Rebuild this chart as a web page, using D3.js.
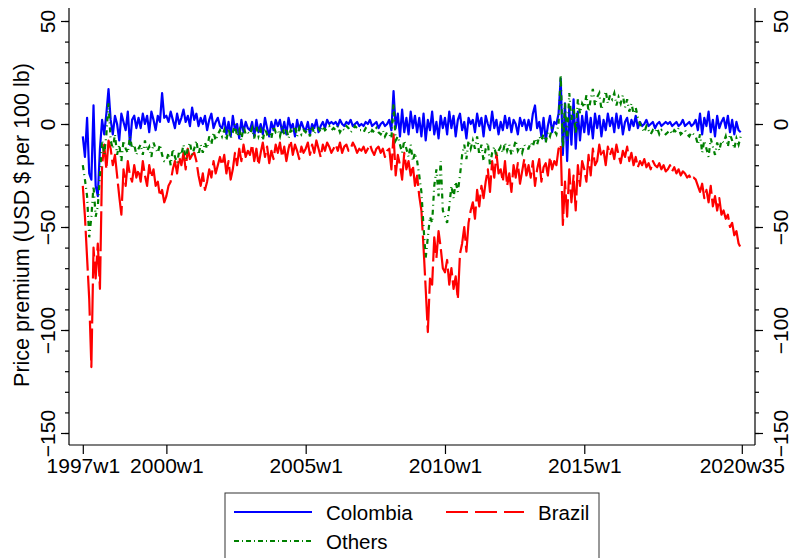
<!DOCTYPE html>
<html>
<head>
<meta charset="utf-8">
<script src="https://cdn.jsdelivr.net/npm/d3@7"></script>
<style>
  body { margin: 0; background: #fff; }
  svg { font-family: "Liberation Sans", Arial, sans-serif; }
</style>
</head>
<body>
<svg width="797" height="558"></svg>
<script>
// week index 0 = 1997w1, one value every 4 weeks up to 2020w33
const colombia = [
  -6, -16, 3, -24, -27, 9, -30, -35, -12, 2, -5, 5, 17,
  2, -5, 4, 0, -8, 5, 1, -3, 6, -10, 2, 4, -2,
  3, -2, 5, 0, 4, -4, 6, 2, -3, 4, 1, 15, 3,
  4, 1, 6, 2, -2, 5, 0, 3, 7, 1, 4, -1, 8,
  2, 5, -1, 3, 0, 4, -3, 2, 5, -2, 1, 3, -1,
  -2, 3, -5, 1, -6, 4, -3, 0, -7, 2, -4, 1, -2,
  -3, 1, -6, 2, -4, 0, -5, 3, -2, -6, 1, -3, 2,
  -1, 2, -4, 1, -5, 3, -2, 0, -6, 2, -3, 1, -2,
  -3, 1, -5, 0, -2, 2, -4, -1, 1, -2, 2, 0, 1,
  0, 1, -1, 2, 0, -1, 1, 0, 2, -1, 0, 1, -1,
  0, -1, 1, 0, 2, -1, 0, 1, -2, 0, 1, -1, 0,
  2, -3, 16, -2, 5, -6, 7, -4, 3, -5, 6, -2, 4,
  -4, 3, -6, 5, -8, 2, -3, 6, -5, 1, -7, 4, -2,
  3, -5, 6, -2, 4, -6, 2, 5, -3, 1, -7, 3, 0,
  2, -4, 5, -1, 3, -6, 4, 0, -3, 6, -2, 2, -5,
  1, -3, 4, -2, 3, -4, 2, 0, -5, 3, -1, 2, -3,
  2, -3, 5, 9, -2, 1, -6, 3, -8, -1, 4, -4, 1,
  0, 5, 22, -15, 10, -18, 8, -10, 12, -12, 6, -8, 4,
  -4, 6, -5, 3, -7, 5, -2, 4, -6, 2, -3, 5, -1,
  3, -4, 5, -2, 4, -5, 1, 3, -3, 2, -1, 4, -2,
  1, -1, 0, 2, -1, 0, 1, -2, 0, 1, -1, 0, 1,
  0, 1, -1, 0, 1, -1, 0, 2, -1, 0, 1, -1, 0,
  2, -3, 5, -5, 3, -1, 6, -4, 2, -6, 4, -2, 1,
  3, -2, 4, -4, 2, -5, 1, -3, -4
]

const brazil = [
  -30, -45, -65, -85, -118, -60, -75, -58, -80, -20, -10, -22, -8,
  -12, -20, -15, -25, -35, -44, -22, -30, -18, -25, -28, -20, -26,
  -22, -28, -18, -25, -30, -20, -26, -22, -30, -28, -35, -32, -38,
  -35, -30, -28, -22, -18, -24, -16, -20, -14, -22, -12, -17, -15,
  -14, -18, -25, -30, -24, -32, -28, -22, -26, -18, -24, -20, -16,
  -20, -15, -24, -18, -27, -22, -14, -20, -12, -18, -10, -16, -13,
  -15, -10, -18, -12, -20, -14, -9, -16, -11, -19, -13, -17, -10,
  -14, -9, -16, -11, -18, -12, -8, -15, -10, -13, -17, -11, -14,
  -12, -9, -15, -10, -14, -8, -12, -16, -10, -13, -9, -11, -14,
  -12, -10, -13, -9, -14, -11, -10, -13, -12, -9, -11, -14, -12,
  -13, -11, -14, -12, -10, -13, -15, -12, -11, -14, -12, -16, -13,
  -12, -22, -5, -25, -15, -20, -27, -14, -22, -18, -25, -20, -30,
  -25, -35, -42, -60, -80, -101, -75, -78, -55, -65, -52, -60, -70,
  -72, -66, -78, -70, -80, -74, -85, -63, -58, -50, -62, -48, -42,
  -38, -46, -32, -40, -30, -36, -28, -22, -33, -18, -26, -14, -24,
  -22, -28, -18, -30, -24, -33, -20, -26, -19, -29, -23, -17, -25,
  -20, -26, -18, -30, -22, -17, -28, -21, -19, -25, -16, -22, -18,
  -20, -12, -10, -49, -28, -45, -22, -38, -25, -42, -20, -30, -18,
  -22, -28, -15, -25, -12, -20, -18, -10, -16, -13, -20, -11, -15,
  -12, -17, -10, -15, -19, -13, -16, -11, -18, -14, -20, -16, -21,
  -18, -20, -17, -21, -19, -22, -18, -20, -21, -19, -22, -20, -23,
  -22, -20, -23, -21, -24, -22, -25, -23, -24, -26, -25, -27, -26,
  -27, -30, -33, -29, -36, -32, -38, -30, -40, -35, -42, -36, -44,
  -42, -46, -44, -50, -48, -54, -52, -58, -60
]

const others = [
  -20, -27, -35, -55, -45, -30, -45, -40, -25, -8, -15, -5, 10,
  -8, -12, -5, -15, -10, -18, -8, -12, -14, -6, -12, -10, -15,
  -12, -10, -15, -8, -13, -11, -16, -9, -12, -14, -10, -15, -18,
  -18, -14, -20, -12, -16, -19, -13, -15, -10, -17, -12, -9, -15,
  -12, -8, -15, -10, -14, -9, -12, -6, -10, -4, -8, -5, -3,
  -6, -3, -8, -2, -7, -4, 0, -6, -3, -8, -1, -5, -4,
  -5, -2, -7, -1, -6, -3, -8, -2, -5, -4, -7, -1, -4,
  -3, -6, -1, -5, -2, -7, -3, -4, -1, -6, -2, -5, -3,
  -4, -2, -6, -1, -5, -3, -2, -4, -1, -3, -2, -1, -3,
  -2, -3, -1, -4, -2, -3, -1, -2, -4, -3, -1, -2, -3,
  -3, -4, -2, -3, -5, -3, -4, -2, -4, -5, -3, -6, -4,
  -5, -7, 10, -8, -6, -10, -14, -8, -12, -16, -10, -18, -14,
  -18, -25, -33, -50, -65, -55, -45, -48, -30, -22, -35, -18, -42,
  -45, -48, -40, -30, -36, -28, -33, -25, -15, -10, -17, -8, -12,
  -8, -12, -6, -15, -10, -18, -12, -9, -20, -14, -11, -16, -13,
  -11, -14, -9, -13, -10, -15, -12, -8, -13, -11, -14, -10, -12,
  -12, -9, -11, -7, -10, -6, -8, -5, -9, -4, -6, -2, -3,
  -5, 0, 24, -12, 10, -8, 15, 2, 8, -5, 12, 5, 10,
  8, 14, 6, 12, 17, 9, 13, 15, 7, 11, 16, 10, 14,
  12, 15, 9, 13, 10, 14, 8, 12, 6, 10, 5, 8, 3,
  0, -2, -4, -1, -3, -5, -3, -4, -2, -5, -3, -4, -5,
  -4, -3, -5, -3, -4, -2, -5, -4, -3, -5, -6, -4, -5,
  -6, -10, -5, -14, -8, -12, -16, -7, -11, -15, -9, -13, -8,
  -9, -6, -11, -5, -8, -12, -7, -10, -6
]

const xTickWeeks = [0, 156, 416, 676, 936, 1230]
const xTickLabels = ["1997w1", "2000w1", "2005w1", "2010w1", "2015w1", "2020w35"]
const yTicks = [50, 0, -50, -100, -150]
const yMinorTicks = d3.range(-150, 51, 10)
const weeks = colombia.map((d, i) => i * 4)

const svg = d3.select("svg")

const xScale = d3.scaleLinear().domain([0, 1230]).range([82.8, 741.8])
const yScale = d3.scaleLinear().domain([-150, 50]).range([433, 21])

function addAxes(){
    const left = 69, right = 755, bottom = 445, top = 8

    // frame lines: left, right, bottom
    svg.append("line")
        .attr("x1", left).attr("x2", left).attr("y1", top).attr("y2", bottom)
        .attr("stroke", "#000").attr("stroke-width", 1.2)
    svg.append("line")
        .attr("x1", right).attr("x2", right).attr("y1", top).attr("y2", bottom)
        .attr("stroke", "#000").attr("stroke-width", 1.2)
    svg.append("line")
        .attr("x1", left).attr("x2", right).attr("y1", bottom).attr("y2", bottom)
        .attr("stroke", "#000").attr("stroke-width", 1.2)

    const yLeft = d3.axisLeft(yScale).tickValues(yMinorTicks).tickSize(4).tickFormat("")
    const yLeftMajor = d3.axisLeft(yScale).tickValues(yTicks).tickSize(8).tickFormat(d3.format("d"))
    const yRight = d3.axisRight(yScale).tickValues(yMinorTicks).tickSize(4).tickFormat("")
    const yRightMajor = d3.axisRight(yScale).tickValues(yTicks).tickSize(8).tickFormat(d3.format("d"))

    svg.append("g").attr("id", "yLeftMinor").attr("transform", `translate(${left},0)`).call(yLeft)
    svg.append("g").attr("id", "yLeftG").attr("transform", `translate(${left},0)`).call(yLeftMajor)
    svg.append("g").attr("id", "yRightMinor").attr("transform", `translate(${right},0)`).call(yRight)
    svg.append("g").attr("id", "yRightG").attr("transform", `translate(${right},0)`).call(yRightMajor)

    d3.select("#yLeftG").selectAll("g.tick text")
        .attr("x", null).attr("dy", null)
        .attr("transform", "translate(-22,0) rotate(-90)")
        .attr("text-anchor", "middle")
        .attr("dominant-baseline", "central")
        .style("font-size", "21px")
        .style("fill", "#000")

    d3.select("#yRightG").selectAll("g.tick text")
        .attr("x", null).attr("dy", null)
        .attr("transform", "translate(25,0) rotate(-90)")
        .attr("text-anchor", "middle")
        .attr("dominant-baseline", "central")
        .style("font-size", "21px")
        .style("fill", "#000")

    const xAxis = d3.axisBottom(xScale).tickValues(xTickWeeks).tickSize(9)
        .tickFormat((d, i) => xTickLabels[i])

    svg.append("g").attr("id", "xAxisG").attr("transform", `translate(0,${bottom})`).call(xAxis)

    d3.select("#xAxisG").selectAll("g.tick text")
        .attr("y", 13).attr("dy", "0.71em")
        .style("font-size", "21px")
        .style("fill", "#000")

    svg.selectAll("path.domain").style("display", "none")
    svg.selectAll("g.tick line").attr("stroke", "#000").attr("stroke-width", 1.2)

    svg.append("text")
        .attr("transform", "translate(22,225) rotate(-90)")
        .attr("text-anchor", "middle")
        .attr("dominant-baseline", "central")
        .style("font-size", "21.5px")
        .text("Price premium (USD $ per 100 lb)")
}

function addLines(){
    const line = arr => d3.line()
        .x((d, i) => xScale(weeks[i]))
        .y(d => yScale(d))(arr)

    svg.append("path")
        .attr("d", line(colombia))
        .attr("fill", "none")
        .attr("stroke", "#0000ff")
        .attr("stroke-width", 2.2)
        .attr("stroke-linejoin", "round")

    // the weekly path is much longer than its width, so dashes rarely break
    svg.append("path")
        .attr("d", line(brazil))
        .attr("fill", "none")
        .attr("stroke", "#ff0000")
        .attr("stroke-width", 2.2)
        .attr("stroke-dasharray", "40,5")
        .attr("stroke-linejoin", "round")

    svg.append("path")
        .attr("d", line(others))
        .attr("fill", "none")
        .attr("stroke", "#008000")
        .attr("stroke-width", 2.2)
        .attr("stroke-dasharray", "5,4,1,4")
}

function addLegend(){
    const g = svg.append("g").attr("id", "legend")
    g.append("rect")
        .attr("x", 225).attr("y", 493)
        .attr("width", 374).attr("height", 80)
        .attr("fill", "#fff")
        .attr("stroke", "#333").attr("stroke-width", 1)

    const items = [
        {name: "Colombia", color: "#0000ff", dash: null, x: 234, y: 512},
        {name: "Brazil", color: "#ff0000", dash: "22,7", x: 446, y: 512},
        {name: "Others", color: "#008000", dash: "5,3,1,3", x: 234, y: 541}
    ]

    items.forEach(item => {
        g.append("line")
            .attr("x1", item.x).attr("x2", item.x + 78)
            .attr("y1", item.y).attr("y2", item.y)
            .attr("stroke", item.color)
            .attr("stroke-width", 2.2)
            .attr("stroke-dasharray", item.dash)
        g.append("text")
            .attr("x", item.x + 92)
            .attr("y", item.y)
            .attr("dominant-baseline", "central")
            .style("font-size", "20.5px")
            .text(item.name)
    })
}

addAxes()
addLines()
addLegend()
</script>
</body>
</html>
